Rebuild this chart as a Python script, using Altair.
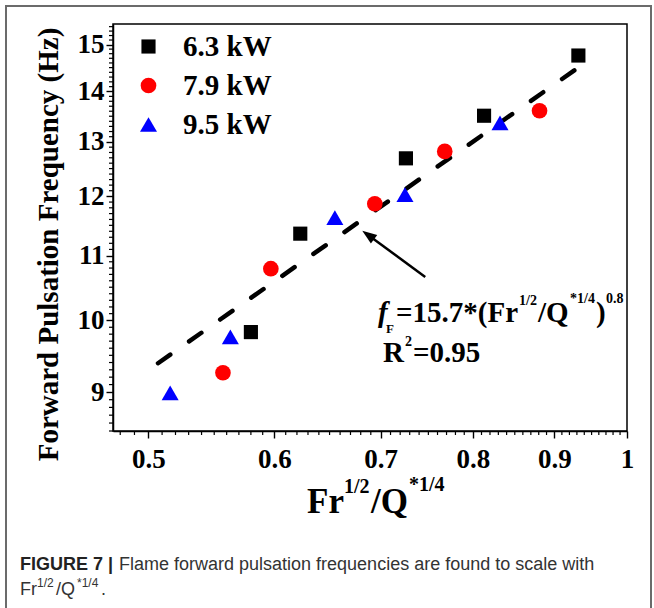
import altair as alt
import pandas as pd

SERIF = "Liberation Serif, Times New Roman, serif"
SANS = "Liberation Sans, Arial, sans-serif"

# Flame forward pulsation frequency vs. Fr^(1/2)/Q*^(1/4), three heat release rates
series_names = ["6.3 kW", "7.9 kW", "9.5 kW"]
series_colors = ["#000000", "#ff0000", "#0000ff"]
series_shapes = ["square", "circle", "triangle-up"]
series_sizes = [200, 290, 400]

x_63 = [0.580, 0.623, 0.726, 0.813, 0.932]
y_63 = [9.83, 11.36, 12.69, 13.51, 14.76]
x_79 = [0.557, 0.597, 0.694, 0.768, 0.881]
y_79 = [9.26, 10.79, 11.87, 12.82, 13.61]
x_95 = [0.516, 0.563, 0.655, 0.725, 0.832]
y_95 = [8.99, 9.76, 11.63, 12.03, 13.37]

# power-law fit line (straight on log-log axes)
fit_x = [0.507, 0.930]
fit_y = [9.39, 14.48]

# arrow pointing at the fit line: shaft (tail -> near tip) and head tip
arrow_x = [0.7466, 0.688]
arrow_y = [10.66, 11.33]
head_x = [0.6815]
head_y = [11.41]

x_domain = [0.475, 1.0]
y_domain = [8.5, 15.46]
x_major = [0.5, 0.6, 0.7, 0.8, 0.9, 1.0]
y_major = [9, 10, 11, 12, 13, 14, 15]
x_minor = [round(0.48 + 0.01 * i, 2) for i in range(53)]
x_minor = [v for v in x_minor if round(v * 10, 6) != round(v * 10)]
y_minor = [round(8.5 + 0.1 * i, 1) for i in range(70)]
y_minor = [v for v in y_minor if v != round(v)]

W, H = 514, 407
OX, OY = 113, 24  # plot origin inside the page

points = pd.DataFrame({
    "ratio": x_63 + x_79 + x_95,
    "freq": y_63 + y_79 + y_95,
    "power": [series_names[0]] * len(x_63)
    + [series_names[1]] * len(x_79)
    + [series_names[2]] * len(x_95),
})
fit = pd.DataFrame({"ratio": fit_x, "freq": fit_y})
arrow = pd.DataFrame({"ratio": arrow_x, "freq": arrow_y})
head = pd.DataFrame({"ratio": head_x, "freq": head_y})
xminor_df = pd.DataFrame({"ratio": x_minor})
yminor_df = pd.DataFrame({"freq": y_minor})
one = pd.DataFrame({"k": [0]})

x_axis = alt.Axis(
    values=x_major, title=None, grid=False,
    domainColor="black", domainWidth=1.5,
    tickColor="black", tickWidth=1.4, tickSize=7,
    labelExpr="format(datum.value, '.1~f')",
    labelFont=SERIF, labelFontWeight="bold", labelFontSize=27, labelColor="black",
    labelPadding=8, labelOverlap=False, labelFlush=False, labelBound=False,
)
y_axis = alt.Axis(
    values=y_major, grid=False,
    domainColor="black", domainWidth=1.5,
    tickColor="black", tickWidth=1.4, tickSize=7,
    format="d",
    labelFont=SERIF, labelFontWeight="bold", labelFontSize=27, labelColor="black",
    labelPadding=2, labelOverlap=False, labelFlush=False, labelBound=False,
    title="Forward Pulsation Frequency (Hz)",
    titleFont=SERIF, titleFontWeight="bold", titleFontSize=29, titleColor="black",
    titleX=-65, titleY=220, titleAlign="center", titleBaseline="middle", titleAngle=-90,
)

xs = alt.Scale(type="log", domain=x_domain, nice=False)
ys = alt.Scale(type="log", domain=y_domain, nice=False)

fit_line = alt.Chart(fit).mark_line(
    color="black", strokeWidth=4.5, strokeDash=[15, 23], strokeCap="round"
).encode(
    x=alt.X("ratio:Q", scale=xs, axis=x_axis),
    y=alt.Y("freq:Q", scale=ys, axis=y_axis),
)

# minor ticks, drawn just outside the axis lines
x_minor_ticks = alt.Chart(xminor_df).mark_rule(color="black", strokeWidth=1.2).encode(
    x=alt.X("ratio:Q", scale=xs), y=alt.value(H), y2=alt.value(H + 4)
)
y_minor_ticks = alt.Chart(yminor_df).mark_rule(color="black", strokeWidth=1.2).encode(
    y=alt.Y("freq:Q", scale=ys), x=alt.value(-4), x2=alt.value(0)
)

arrow_shaft = alt.Chart(arrow).mark_line(color="black", strokeWidth=2.5).encode(
    x=alt.X("ratio:Q", scale=xs), y=alt.Y("freq:Q", scale=ys)
)
arrow_head = alt.Chart(head).mark_point(
    shape="M0,0 L-0.55,1.5 L0.55,1.5 Z", filled=True, color="black",
    opacity=1, size=380, angle=306,
).encode(x=alt.X("ratio:Q", scale=xs), y=alt.Y("freq:Q", scale=ys))

marks = alt.Chart(points).mark_point(filled=True, opacity=1).encode(
    x=alt.X("ratio:Q", scale=xs),
    y=alt.Y("freq:Q", scale=ys),
    color=alt.Color("power:N", scale=alt.Scale(domain=series_names, range=series_colors),
                    legend=alt.Legend(title=None)),
    shape=alt.Shape("power:N", scale=alt.Scale(domain=series_names, range=series_shapes),
                    legend=alt.Legend(title=None)),
    size=alt.Size("power:N", scale=alt.Scale(domain=series_names, range=series_sizes),
                  legend=alt.Legend(title=None)),
)


def txt(s, x, y, size, font=SERIF, weight="bold", style="normal", color="black"):
    """Text piece placed by its page position (left edge, baseline)."""
    return alt.Chart(one).mark_text(
        text=s, align="left", baseline="alphabetic", font=font,
        fontWeight=weight, fontStyle=style, fontSize=size, color=color,
    ).encode(x=alt.value(x - OX), y=alt.value(y - OY))


annotations = [
    # fit equation
    txt("f", 378, 322, 29, style="italic"),
    txt("F", 386, 333, 13),
    txt("=15.7*(Fr", 396, 322, 29),
    txt("1/2", 519, 305, 14),
    txt("/Q", 538, 322, 29),
    txt("*1/4", 570, 303, 14),
    txt(")", 596, 322, 29),
    txt("0.8", 606, 303, 14),
    txt("R", 383, 362, 29),
    txt("2", 405, 346, 14),
    txt("=0.95", 413, 362, 29),
    # x-axis title
    txt("Fr", 307, 513, 35),
    txt("1/2", 344, 493, 20),
    txt("/Q", 371, 513, 35),
    txt("*1/4", 409, 491, 20),
    # caption
    txt("FIGURE 7 |", 20, 570, 18, font=SANS, weight="bold", color="#222222"),
    txt("Flame forward pulsation frequencies are found to scale with", 119, 570, 18,
        font=SANS, weight="normal", color="#333333"),
    txt("Fr", 20, 595, 18, font=SANS, weight="normal", color="#333333"),
    txt("1/2", 37, 587, 12, font=SANS, weight="normal", color="#333333"),
    txt("/Q", 56, 595, 18, font=SANS, weight="normal", color="#333333"),
    txt("*1/4", 77, 587, 12, font=SANS, weight="normal", color="#333333"),
    txt(".", 101, 595, 18, font=SANS, weight="normal", color="#333333"),
]

frame = alt.Chart(one).mark_rect(
    fillOpacity=0, stroke="#6b6b6b", strokeWidth=2
).encode(
    x=alt.value(6 - OX), x2=alt.value(651 - OX),
    y=alt.value(6 - OY), y2=alt.value(640 - OY),
)

chart = alt.layer(
    frame, fit_line, x_minor_ticks, y_minor_ticks, arrow_shaft, arrow_head, marks,
    *annotations
).properties(
    width=W, height=H,
    autosize=alt.AutoSizeParams(type="none"),
    padding={"left": OX, "top": OY, "right": 654 - OX - W, "bottom": 608 - OY - H},
    background="white",
).configure_view(
    stroke="black", strokeWidth=1.5
).configure_legend(
    orient="none", legendX=21, legendY=8,
    padding=0, rowPadding=9, labelOffset=20,
    labelFont=SERIF, labelFontWeight="bold", labelFontSize=29, labelColor="black",
    symbolStrokeWidth=0, symbolOpacity=1,
)

chart.save("out.html", embed_options={"renderer": "svg", "actions": False})
